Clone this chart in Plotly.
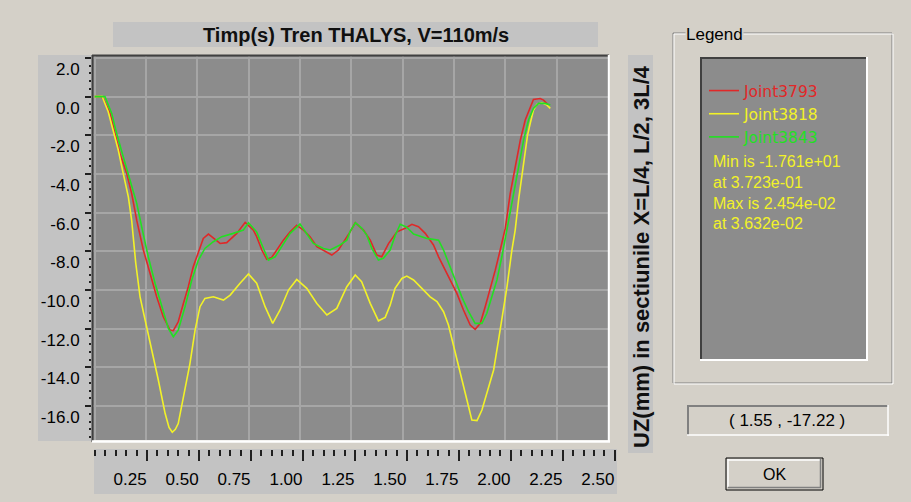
import plotly.graph_objects as go

W, H = 911, 502
FONT = "Liberation Sans, Arial, sans-serif"

# ---------------- data ----------------
T_RED = [0, 0.03, 0.042, 0.075, 0.099, 0.123, 0.156, 0.18, 0.205, 0.237, 0.27, 0.302, 0.334, 0.367, 0.383,
         0.407, 0.432, 0.456, 0.48, 0.505, 0.529, 0.554, 0.578, 0.611, 0.643, 0.667, 0.692, 0.733, 0.773,
         0.789, 0.814, 0.838, 0.862, 0.887, 0.919, 0.952, 0.984, 1.017, 1.049, 1.082, 1.122, 1.155, 1.187,
         1.22, 1.244, 1.269, 1.309, 1.342, 1.374, 1.398, 1.431, 1.472, 1.512, 1.545, 1.577, 1.61, 1.65,
         1.675, 1.699, 1.731, 1.764, 1.796, 1.829, 1.853, 1.878, 1.902, 1.926, 1.951, 1.975, 2.0, 2.024,
         2.048, 2.073, 2.097, 2.121, 2.137, 2.17, 2.186, 2.21]
V_RED = [0, 0, -0.1, -0.87, -1.9, -2.94, -3.97, -5.0, -6.4, -7.93, -9.14, -10.35, -11.38, -12.07, -12.1,
         -11.64, -10.69, -9.83, -8.8, -8.1, -7.33, -7.11, -7.33, -7.59, -7.55, -7.33, -7.07, -6.5, -6.9,
         -7.24, -7.93, -8.41, -8.31, -7.93, -7.42, -6.99, -6.65, -6.9, -7.24, -7.76, -8.02, -8.19, -7.93,
         -7.42, -6.99, -6.52, -6.9, -7.42, -8.19, -8.28, -7.6, -6.99, -6.81, -6.6, -6.73, -7.07, -7.67,
         -8.28, -8.8, -9.48, -10.17, -11.03, -11.81, -12.03, -11.72, -10.86, -10.0, -8.97, -7.93, -6.8, -5.0,
         -3.63, -2.25, -1.21, -0.53, -0.15, -0.1, -0.18, -0.44]

T_YELLOW = [0, 0.036, 0.066, 0.091, 0.115, 0.139, 0.164, 0.18, 0.188, 0.2, 0.221, 0.245, 0.27, 0.29, 0.31,
            0.343, 0.362, 0.378, 0.393, 0.407, 0.432, 0.464, 0.489, 0.513, 0.537, 0.578, 0.627, 0.66, 0.708,
            0.749, 0.789, 0.83, 0.867, 0.903, 0.944, 0.984, 1.033, 1.082, 1.131, 1.179, 1.228, 1.269, 1.30,
            1.342, 1.382, 1.415, 1.439, 1.463, 1.496, 1.52, 1.553, 1.594, 1.634, 1.667, 1.699, 1.723, 1.748,
            1.78, 1.813, 1.837, 1.862, 1.886, 1.91, 1.943, 1.967, 1.991, 2.008, 2.032, 2.048, 2.065, 2.08,
            2.095, 2.108, 2.121, 2.137, 2.154, 2.178, 2.203, 2.219]
V_YELLOW = [0, 0.02, -0.78, -1.73, -2.76, -3.97, -5.18, -6.38, -7.2, -8.6, -10.35, -11.5, -12.6, -13.6, -14.65,
            -16.37, -17.1, -17.35, -17.2, -16.9, -15.5, -13.8, -12.07, -10.86, -10.43, -10.35, -10.52, -10.26, -9.65,
            -9.17, -9.65, -10.86, -11.72, -11.03, -10.0, -9.45, -9.91, -10.69, -11.29, -10.95, -9.83, -9.22, -9.57,
            -10.69, -11.59, -11.41, -10.78, -9.91, -9.4, -9.28, -9.48, -9.91, -10.35, -10.6, -11.12, -11.81, -12.93,
            -14.3, -15.68, -16.72, -16.75, -16.2, -15.34, -14.13, -12.58, -11.03, -9.83, -7.93, -6.9, -5.3, -4.2,
            -3.0, -2.0, -1.39, -0.7, -0.4, -0.32, -0.44, -0.61]

T_GREEN = [0, 0.05, 0.083, 0.107, 0.139, 0.172, 0.205, 0.229, 0.261, 0.294, 0.326, 0.359, 0.383, 0.407, 0.44,
           0.473, 0.505, 0.537, 0.578, 0.619, 0.675, 0.724, 0.749, 0.789, 0.822, 0.846, 0.879, 0.919, 0.952,
           1.0, 1.041, 1.065, 1.114, 1.147, 1.195, 1.228, 1.245, 1.27, 1.3, 1.325, 1.35, 1.382, 1.406, 1.439,
           1.463, 1.488, 1.52, 1.553, 1.618, 1.675, 1.699, 1.723, 1.756, 1.788, 1.821, 1.853, 1.886, 1.91,
           1.935, 1.959, 1.983, 2.008, 2.04, 2.064, 2.089, 2.113, 2.137, 2.162, 2.194, 2.219]
V_GREEN = [0, 0, -0.87, -1.9, -3.11, -4.31, -5.52, -6.73, -8.28, -9.65, -10.86, -11.98, -12.41, -12.07, -10.86,
           -9.48, -8.45, -7.85, -7.5, -7.24, -7.07, -6.9, -6.52, -6.99, -7.85, -8.45, -8.28, -7.59, -7.07,
           -6.59, -7.24, -7.59, -7.85, -7.93, -7.67, -7.42, -6.95, -6.52, -6.8, -7.16, -7.85, -8.45, -8.36, -7.93,
           -7.2, -6.6, -6.75, -7.1, -7.33, -7.42, -7.93, -8.62, -9.48, -10.35, -11.12, -11.72, -11.72, -11.2,
           -10.35, -9.48, -8.28, -6.9, -5.0, -3.63, -2.25, -1.21, -0.61, -0.35, -0.35, -0.44]

SERIES_NAMES = ["Joint3793", "Joint3818", "Joint3843"]
SERIES_COLORS = ["#e02828", "#f2f228", "#22e022"]

X_TICKS = [0.25, 0.50, 0.75, 1.00, 1.25, 1.50, 1.75, 2.00, 2.25, 2.50]
Y_TICKS = [2.0, 0.0, -2.0, -4.0, -6.0, -8.0, -10.0, -12.0, -14.0, -16.0]

MIN_VALUE, MIN_AT = -17.61, 0.3723
MAX_VALUE, MAX_AT = 0.02454, 0.03632
CURSOR = (1.55, -17.22)

TITLE = "Timp(s) Tren THALYS, V=110m/s"
Y_TITLE = "UZ(mm) in sectiunile X=L/4, L/2, 3L/4"

for a, b in [(T_RED, V_RED), (T_YELLOW, V_YELLOW), (T_GREEN, V_GREEN)]:
    assert len(a) == len(b)

# ---------------- helpers ----------------
def px(x):
    return x / W

def py(y):
    return 1 - y / H

BG = "#d4d0c8"
PANEL = "#c3c3c3"
PLOTBG = "#8c8c8c"
GRID = "#a6a6a6"
DARK = "#404040"

fig = go.Figure()
for t, v, name, col in zip([T_RED, T_YELLOW, T_GREEN], [V_RED, V_YELLOW, V_GREEN], SERIES_NAMES, SERIES_COLORS):
    fig.add_trace(go.Scatter(x=t, y=v, mode="lines", line=dict(color=col, width=1.6),
                             name=f"<span style='color:{col}'>{name}</span>"))

# empty trace to host the separate bottom tick strip axis
fig.add_trace(go.Scatter(x=[], y=[], xaxis="x2", yaxis="y2", showlegend=False, hoverinfo="skip"))

shapes = []
def rect(x0, y0, x1, y1, fill, line=None, layer="below", lw=0):
    shapes.append(dict(type="rect", xref="paper", yref="paper", x0=px(x0), x1=px(x1), y0=py(y1), y1=py(y0),
                       fillcolor=fill, line=dict(color=line or fill, width=lw), layer=layer))

def hline(x0, x1, y, color, w=1, layer="above"):
    shapes.append(dict(type="line", xref="paper", yref="paper", x0=px(x0), x1=px(x1), y0=py(y), y1=py(y),
                       line=dict(color=color, width=w), layer=layer))

def vline(x, y0, y1, color, w=1, layer="above"):
    shapes.append(dict(type="line", xref="paper", yref="paper", x0=px(x), x1=px(x), y0=py(y0), y1=py(y1),
                       line=dict(color=color, width=w), layer=layer))

# panels
rect(113, 22, 598, 47, PANEL)            # title strip
rect(38, 55, 92, 441, PANEL)             # y tick strip
rect(94, 449, 617, 494, PANEL)           # x tick strip
rect(628, 55, 653, 453, PANEL)           # y-title strip

# plot sunken border
hline(92, 609, 55.5, DARK, 2)
vline(92.5, 55, 442, DARK, 2)
hline(92, 610, 441.5, "#ffffff", 2.5)
vline(608.8, 55, 442, "#ffffff", 2)

# legend group box (etched)
for off, col in [(0, "#808080"), (1, "#ffffff")]:
    shapes.append(dict(type="rect", xref="paper", yref="paper", x0=px(673 + off), x1=px(892 + off),
                       y0=py(383 + off), y1=py(33 + off), line=dict(color=col, width=1),
                       fillcolor="rgba(0,0,0,0)", layer="below"))
# inner legend panel
rect(700, 57, 867, 360, PLOTBG)
hline(700, 867, 58, DARK, 2)
vline(701, 57, 360, DARK, 2)
hline(700, 868, 360, "#ffffff", 2)
vline(867, 57, 361, "#ffffff", 2)

# cursor readout box
rect(687, 405, 888, 435, BG)
hline(687, 888, 406, "#808080", 2)
vline(688, 405, 435, "#808080", 2)
hline(687, 889, 435, "#ffffff", 1.5)
vline(888, 405, 436, "#ffffff", 1.5)

# OK button
rect(726, 458, 823, 490, BG, line="#000000", lw=1)
hline(728, 820, 460, "#ffffff", 1.5)
vline(728, 459, 487, "#ffffff", 1.5)
hline(728, 821, 487.5, "#808080", 1.5)
vline(820.5, 459, 488, "#808080", 1.5)

annotations = [
    dict(text="<b>" + TITLE + "</b>", x=px(355.5), y=py(35), xref="paper", yref="paper", showarrow=False,
         font=dict(family=FONT, size=20, color="#101010"), xanchor="center", yanchor="middle"),
    dict(text="<b>" + Y_TITLE + "</b>", x=px(641), y=py(257), xref="paper", yref="paper", showarrow=False,
         textangle=-90, font=dict(family=FONT, size=22, color="#101010"), xanchor="center", yanchor="middle"),
    dict(text="Legend", x=px(685), y=py(35), xref="paper", yref="paper", showarrow=False, bgcolor=BG,
         font=dict(family=FONT, size=17, color="#000000"), xanchor="left", yanchor="middle", borderpad=0),
    dict(text="<br>".join([f"Min is {MIN_VALUE:.3e}", f"at {MIN_AT:.3e}",
                           f"Max is {MAX_VALUE:.3e}", f"at {MAX_AT:.3e}"]),
         x=px(711), y=py(151), xref="paper", yref="paper", showarrow=False, align="left",
         font=dict(family=FONT, size=16, color="#f2f228"), xanchor="left", yanchor="top"),
    dict(text=f"( {CURSOR[0]:.2f} , {CURSOR[1]:.2f} )", x=px(787), y=py(420), xref="paper", yref="paper",
         showarrow=False, font=dict(family=FONT, size=17, color="#000000"), xanchor="center", yanchor="middle"),
    dict(text="OK", x=px(774), y=py(474), xref="paper", yref="paper", showarrow=False,
         font=dict(family=FONT, size=16, color="#000000"), xanchor="center", yanchor="middle"),
]

fig.update_layout(
    width=W, height=H, autosize=False,
    margin=dict(l=0, r=0, t=0, b=0, pad=0, autoexpand=False),
    paper_bgcolor=BG, plot_bgcolor=PLOTBG,
    showlegend=True,
    legend=dict(x=px(704), y=py(74), xanchor="left", yanchor="top", bgcolor="rgba(0,0,0,0)",
                font=dict(family="DejaVu Sans, sans-serif", size=15.5, color="#000000"),
                itemwidth=30, tracegroupgap=0, borderwidth=0),
    shapes=shapes, annotations=annotations,
    xaxis=dict(domain=[px(92), px(608)], range=[-0.013, 2.5], tick0=0, dtick=0.25,
               showgrid=True, gridcolor=GRID, gridwidth=1.5, showticklabels=False, ticks="",
               zeroline=False, showline=False, fixedrange=True, automargin=False),
    yaxis=dict(domain=[py(440), py(55)], range=[-17.75, 2.15], tickmode="array",
               tickvals=Y_TICKS, ticktext=[f"{v:.1f}" for v in Y_TICKS],
               ticks="outside", ticklen=6, tickwidth=1.5, tickcolor="#202020",
               minor=dict(ticks="outside", ticklen=2, tickwidth=1.5, tickcolor="#202020",
                          tickmode="linear", tick0=0, dtick=0.4, showgrid=False),
               showgrid=True, gridcolor=GRID, gridwidth=1.5, zeroline=False, showline=False,
               tickfont=dict(family=FONT, size=17, color="#000000"),
               ticklabelshift=11, ticklabelstandoff=2, fixedrange=True, automargin=False),
    xaxis2=dict(domain=[px(95.1), px(614.8)], range=[0, 2.5], anchor="y2",
                tickmode="array", tickvals=X_TICKS, ticktext=[f"{v:.2f}" for v in X_TICKS],
                ticks="outside", ticklen=11, tickwidth=1.5, tickcolor="#202020",
                minor=dict(ticks="outside", ticklen=6, tickwidth=1.5, tickcolor="#202020",
                           tickmode="linear", tick0=0, dtick=0.05, showgrid=False),
                showgrid=False, zeroline=False, showline=False,
                tickfont=dict(family=FONT, size=17, color="#000000"),
                ticklabelshift=-17, ticklabelstandoff=3, fixedrange=True, automargin=False),
    yaxis2=dict(domain=[py(449) - 0.0003, py(449)], range=[0, 1], showgrid=False, zeroline=False,
                showticklabels=False, ticks="", showline=False, fixedrange=True, automargin=False),
)

fig.write_html("out.html", config={"displayModeBar": False},
               post_script="document.body.style.margin='0px';")
